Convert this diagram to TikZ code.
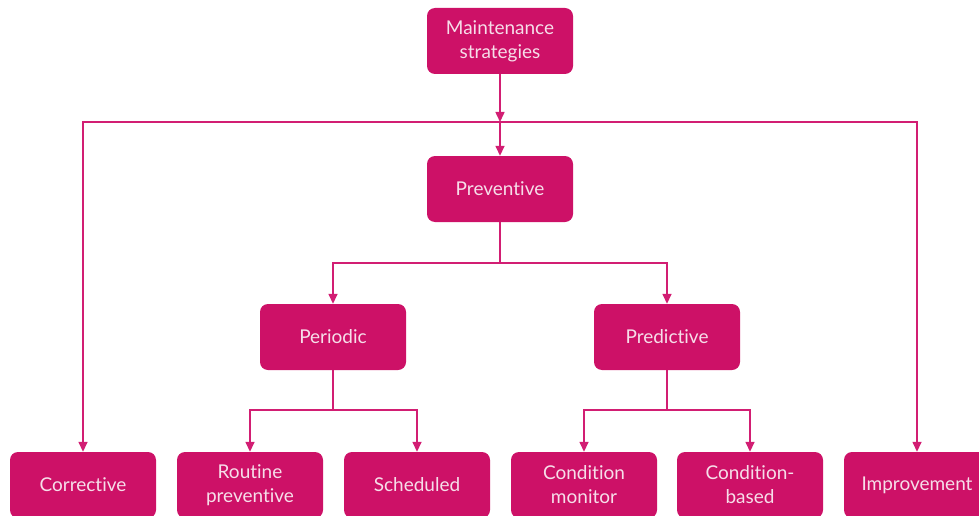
\documentclass[tikz,border=0pt]{standalone}
\usepackage{fontspec}
\setmainfont[Ligatures={NoCommon,NoRare}]{Lato}
\usetikzlibrary{arrows.meta}
\definecolor{boxfill}{RGB}{205,17,103}
\definecolor{boxtext}{RGB}{246,222,233}
\definecolor{wire}{RGB}{210,30,115}
\tikzset{
  card/.style={fill=boxfill, text=boxtext, rounded corners=8pt, minimum width=146pt,
    minimum height=66pt, inner sep=0pt, align=center, font=\fontsize{19}{24}\selectfont},
  link/.style={draw=wire, line width=1.5pt},
  arr/.style={link, -{Triangle[width=9pt,length=10pt]}}
}
\begin{document}
\begin{tikzpicture}[x=1pt,y=-1pt]
\useasboundingbox (0,0) rectangle (979,516);
\begin{scope}
\clip (0,0) rectangle (979,516);
% top levels
\node[card] (ms)   at (500,41)  {Maintenance\\strategies};
\node[card] (prev) at (500,189) {Preventive};
\node[card] (per)  at (333,337) {Periodic};
\node[card] (pred) at (667,337) {Predictive};
% bottom row
\node[card] (corr) at (83,485)  {Corrective};
\node[card] (rout) at (250,485) {Routine\\preventive};
\node[card] (sch)  at (417,485) {Scheduled};
\node[card] (cmon) at (584,485) {Condition\\monitor};
\node[card] (cbas) at (750,485) {Condition-\\based};
\node[card] (impr) at (917,485) {Improvement};
% junction points
\coordinate (hub) at (500,122);
\coordinate (j1)  at (500,263);
\coordinate (j2)  at (333,410);
\coordinate (j3)  at (667,410);
% connectors
\draw[arr] (ms) -- (hub);
\draw[arr] (hub) -- (prev);
\draw[arr] (hub) -| (corr);
\draw[arr] (hub) -| (impr);
\draw[link] (prev) -- (j1);
\draw[arr] (j1) -| (per);
\draw[arr] (j1) -| (pred);
\draw[link] (per) -- (j2);
\draw[arr] (j2) -| (rout);
\draw[arr] (j2) -| (sch);
\draw[link] (pred) -- (j3);
\draw[arr] (j3) -| (cmon);
\draw[arr] (j3) -| (cbas);
\end{scope}
\end{tikzpicture}
\end{document}
